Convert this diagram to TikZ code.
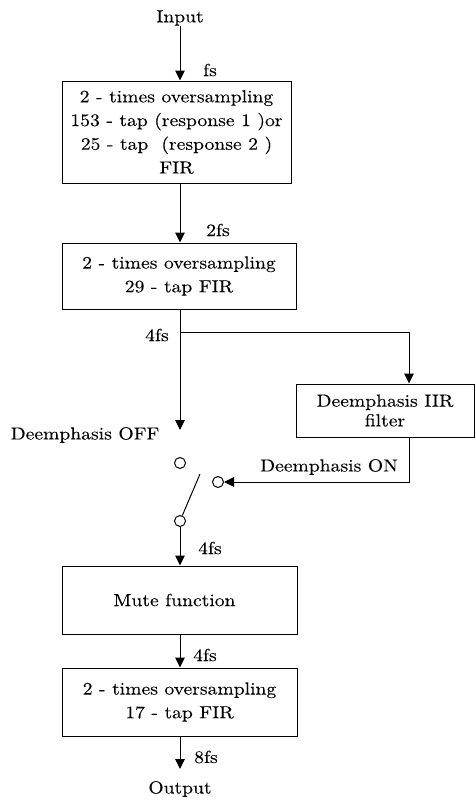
\documentclass[tikz,border=0pt]{standalone}
\usepackage{fontspec}
\setmainfont{lmroman10-regular.otf}[FakeStretch=1.12,FakeBold=0.12]
\usetikzlibrary{arrows.meta}
\begin{document}
\begin{tikzpicture}[x=1pt,y=-1pt,
  font=\fontsize{17.5}{23.7}\selectfont,
  blk/.style={draw, line width=1pt, inner sep=0pt, align=center},
  arr/.style={line width=1pt, -{Triangle[length=10pt,width=9.5pt]}},
  ln/.style={line width=1pt},
  lbl/.style={inner sep=0pt, anchor=center},
  contact/.style={draw, circle, minimum size=11pt, inner sep=0pt, line width=1pt}]
\useasboundingbox (0,0) rectangle (476,803);
% input
\node[lbl] (inp) at (180,18) {Input};
\node[blk, minimum width=229pt, minimum height=102pt] (b1) at (176.5,132)
  {2 - times oversampling\\153 - tap (response 1 )or\\25 - tap\ \ (response 2 )\\FIR};
\node[lbl] (fs) at (210,70) {fs};
\draw[arr] (inp) -- (b1.north -| inp);
% box 2
\node[blk, minimum width=234pt, minimum height=66pt] (b2) at (179,276)
  {2 - times oversampling\\29 - tap FIR};
\node[lbl] (fs2) at (218,230) {2fs};
\draw[arr] (b1.south -| inp) -- (b2.north -| inp);
% main line to switch
\coordinate (br) at (180,332);
\coordinate (offtip) at (180,430);
\draw[arr] (b2.south -| inp) -- (offtip);
\node[lbl] (fs4a) at (157,335) {4fs};
% deemphasis branch
\node[blk, minimum width=178pt, minimum height=53pt] (de) at (385,410.5)
  {Deemphasis IIR\\[-4pt]filter};
\coordinate (bx) at (409,332);
\draw[ln] (br) -- (bx);
\draw[arr] (bx) -- (de.north -| bx);
% switch contacts
\node[contact] (st) at (180,463) {};
\node[contact] (sr) at (218,482) {};
\node[contact] (sb) at (180,521) {};
\coordinate (swend) at (200,474);
\draw[ln] (swend) -- (sb);
\draw[arr] (de.south -| bx) |- (sr);
\node[lbl] (off) at (85,435) {Deemphasis OFF};
\node[lbl] (on) at (329,467) {Deemphasis ON};
% mute
\node[blk, minimum width=235pt, minimum height=68pt] (mute) at (179.5,600) {Mute function\hspace*{10pt}};
\draw[arr] (sb) -- (mute.north -| inp);
\node[lbl] (fs4b) at (210,548) {4fs};
% box 3
\node[blk, minimum width=235pt, minimum height=68pt] (b3) at (179.5,702)
  {2 - times oversampling\\17 - tap FIR};
\draw[arr] (mute.south -| inp) -- (b3.north -| inp);
\node[lbl] (fs4c) at (205,655) {4fs};
% output
\coordinate (otip) at (180,769);
\draw[arr] (b3.south -| inp) -- (otip);
\node[lbl] (fs8) at (206,757) {8fs};
\node[lbl] (outp) at (180,789) {Output};
\end{tikzpicture}
\end{document}
